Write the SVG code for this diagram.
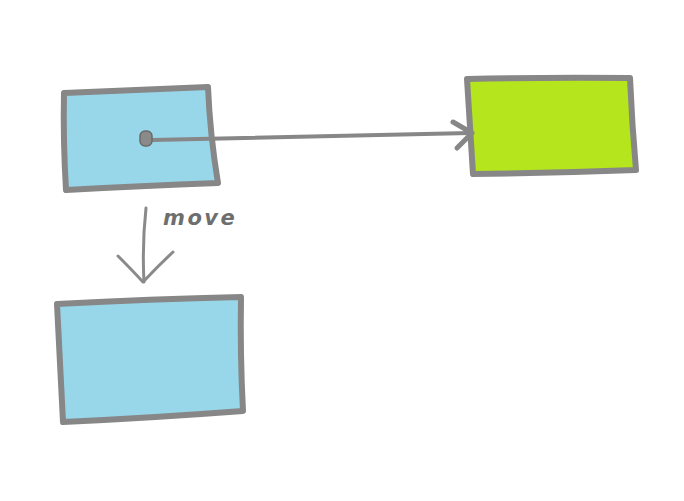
<svg xmlns="http://www.w3.org/2000/svg" width="684" height="501" viewBox="0 0 684 501">
<style>
.box{stroke:#878787;stroke-width:6;stroke-linejoin:round;stroke-linecap:round}
.blue{fill:#98D7EA}
.green{fill:#B5E51D}
.conn{fill:none;stroke:#878787;stroke-width:4;stroke-linecap:round;stroke-linejoin:round}
.head{fill:none;stroke:#878787;stroke-width:5;stroke-linecap:round;stroke-linejoin:round}
.thin{fill:none;stroke:#8a8a8a;stroke-width:3;stroke-linecap:round;stroke-linejoin:round}
.lbl{font-family:"DejaVu Sans",sans-serif;font-style:italic;font-weight:bold;font-size:21px;fill:#6e6e6e;letter-spacing:2.5px}
</style>
<rect width="684" height="501" fill="#ffffff"/>
<g id="node-source">
<path class="box blue" d="M64,93 Q130,90 208,87 Q210,135 218,183 Q140,186 66,190 Q63,140 64,93 Z"/>
</g>
<g id="node-target">
<path class="box green" d="M467,79 Q550,77 630,78 Q632,125 636,170 Q555,173 473,174 Q470,125 467,79 Z"/>
</g>
<g id="node-moved">
<path class="box blue" d="M57,304 Q150,299 241,297 Q240,355 243,411 Q150,418 63,422 Q60,360 57,304 Z"/>
</g>
<g id="connectors">
<path class="conn" d="M152,140 Q310,136 470,133"/>
<rect x="140" y="131" width="12" height="15" rx="5" fill="#8a8a8a" stroke="#6a6a6a" stroke-width="1.5"/>
<path class="head" d="M453,122 L472,133 L457,148"/>
<path class="thin" d="M146,208 Q142,245 144,282"/>
<path class="thin" d="M118,256 Q132,270 143,282 Q158,266 173,252"/>
<text class="lbl" x="163" y="225">move</text>
</g>
</svg>
